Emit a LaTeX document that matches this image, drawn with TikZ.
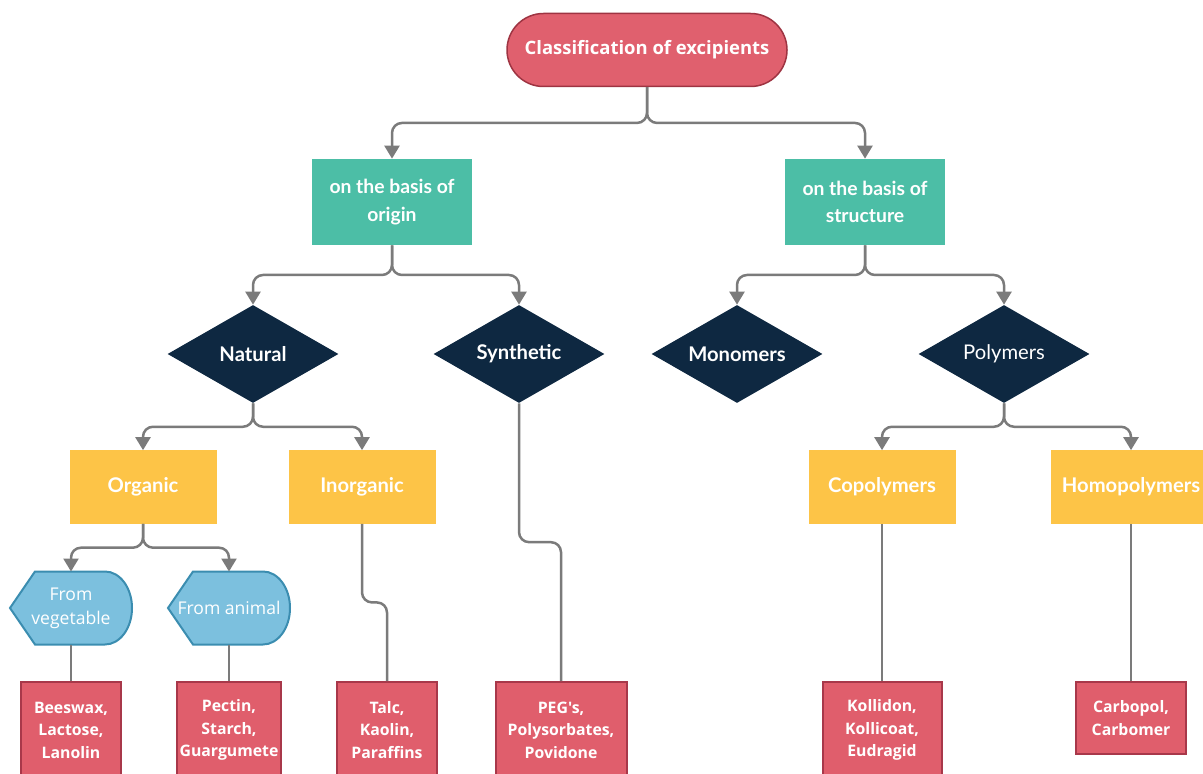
\documentclass[tikz,border=0pt]{standalone}
\usepackage{fontspec}
\setmainfont{Lato}
\newfontfamily\opensans{Open Sans}
\usetikzlibrary{arrows.meta}
\usetikzlibrary{shapes.geometric}
\usetikzlibrary{calc}
\usetikzlibrary{backgrounds}

\definecolor{titlered}{HTML}{E0606E}
\definecolor{titleborder}{HTML}{9E3442}
\definecolor{exred}{HTML}{E05E6C}
\definecolor{exborder}{HTML}{A8384A}
\definecolor{tealbox}{HTML}{4CBEA6}
\definecolor{navy}{HTML}{0E2841}
\definecolor{yellowbox}{HTML}{FDC447}
\definecolor{srcblue}{HTML}{7CC0DE}
\definecolor{srcborder}{HTML}{3B8DB0}
\definecolor{linegray}{HTML}{7B7B7B}

\tikzset{
  conn/.style={draw=linegray, line width=0.5mm, rounded corners=2mm},
  arr/.style={conn, -{Triangle[width=3mm,length=2.6mm]}},
  titlebox/.style={rectangle, rounded corners=7.3mm, fill=titlered, draw=titleborder,
    line width=0.3mm, minimum width=56mm, minimum height=14.6mm, text=white,
    font=\opensans\bfseries\fontsize{10.5}{13}\selectfont},
  basebox/.style={rectangle, fill=tealbox, minimum width=32mm, minimum height=17.2mm,
    align=center, text=white, font=\bfseries\fontsize{11}{15.5}\selectfont},
  choice/.style={diamond, aspect=1.75, fill=navy, minimum width=34.2mm, minimum height=19.6mm,
    inner sep=0pt, text=white, font=\bfseries\fontsize{11.5}{14}\selectfont},
  kindbox/.style={rectangle, fill=yellowbox, minimum width=29.4mm, minimum height=14.6mm,
    text=white, font=\bfseries\fontsize{11.5}{14}\selectfont},
  srcbox/.style={rectangle, minimum width=24.4mm, minimum height=14.6mm, outer sep=0pt,
    align=center, text=white, font=\opensans\fontsize{10}{13.6}\selectfont},
  examplebox/.style={rectangle, fill=exred, draw=exborder, line width=0.4mm,
    inner xsep=0.5mm, minimum width=20mm, minimum height=19.2mm, anchor=north,
    align=center, text=white, font=\opensans\bfseries\fontsize{9}{12.8}\selectfont}
}

\begin{document}
\begin{tikzpicture}[x=0.2mm,y=0.2mm]
  \clip (0,0) rectangle (1203,773);
  \useasboundingbox (0,0) rectangle (1203,773);

  % Wurzel
  \node[titlebox] (title) at (647,723) {Classification of excipients};

  % Kriterien
  \node[basebox] (origin) at (392,571) {on the basis of\\origin};
  \node[basebox] (structure) at (865,571) {on the basis of\\structure};

  % Rauten
  \node[choice] (natural) at (253,419) {Natural};
  \node[choice] (synth) at (519,419) {Synthetic};
  \node[choice] (mono) at (737,419) {Monomers};
  \node[choice, font=\fontsize{11.5}{14}\selectfont] (poly) at (1004,419) {Polymers};

  % Unterklassen
  \node[kindbox] (organic) at (143,286) {Organic};
  \node[kindbox] (inorganic) at (362,286) {Inorganic};
  \node[kindbox] (copoly) at (882,286) {Copolymers};
  \node[kindbox, minimum width=32mm] (homo) at (1131,286) {Homopolymers};

  \node[srcbox] (veg) at (71,165) {From\\vegetable};
  \node[srcbox] (ani) at (229,165) {From animal};
  \begin{scope}[on background layer]
    \foreach \n in {veg,ani}
      \draw[fill=srcblue, draw=srcborder, line width=0.4mm] (\n.west)
        -- ([xshift=5mm]\n.north west) -- ([xshift=-5.4mm]\n.north east)
        arc[start angle=90, end angle=-90, x radius=5.4mm, y radius=7.3mm]
        -- ([xshift=5mm]\n.south west) -- cycle;
  \end{scope}

  % Beispiele
  \node[examplebox] (beeswax) at (71,92) {Beeswax,\\Lactose,\\Lanolin};
  \node[examplebox] (pectin) at (229,92) {Pectin,\\Starch,\\Guargumete};
  \node[examplebox] (talc) at (387,92) {Talc,\\Kaolin,\\Paraffins};
  \node[examplebox, minimum width=26.2mm] (peg) at (561,92) {PEG's,\\Polysorbates,\\Povidone};
  \node[examplebox, minimum width=23.8mm] (kollidon) at (882,92) {Kollidon,\\Kollicoat,\\Eudragid};
  \node[examplebox, minimum width=22mm, minimum height=14.4mm] (carbopol) at (1131,92) {Carbopol,\\Carbomer};

  % Verbindungen
  \foreach \a/\b in {title/origin,title/structure,origin/natural,origin/synth,
                     structure/mono,structure/poly,natural/organic,natural/inorganic,
                     poly/copoly,poly/homo,organic/veg,organic/ani}
  {
    \coordinate (m) at ($(\a.south)!.5!(\b.north)$);
    \draw[arr] (\a.south) -- (\a.south |- m) -- (\b.north |- m) -- (\b.north);
  }
  \foreach \a/\b in {inorganic/talc,synth/peg}
  {
    \coordinate (m) at ($(\a.south)!.5!(\b.north)$);
    \draw[conn] (\a.south) -- (\a.south |- m) -- (\b.north |- m) -- (\b.north);
  }
  \foreach \a/\b in {veg/beeswax,ani/pectin,copoly/kollidon,homo/carbopol}
    \draw[conn] (\a.south) -- (\b.north);
\end{tikzpicture}
\end{document}
